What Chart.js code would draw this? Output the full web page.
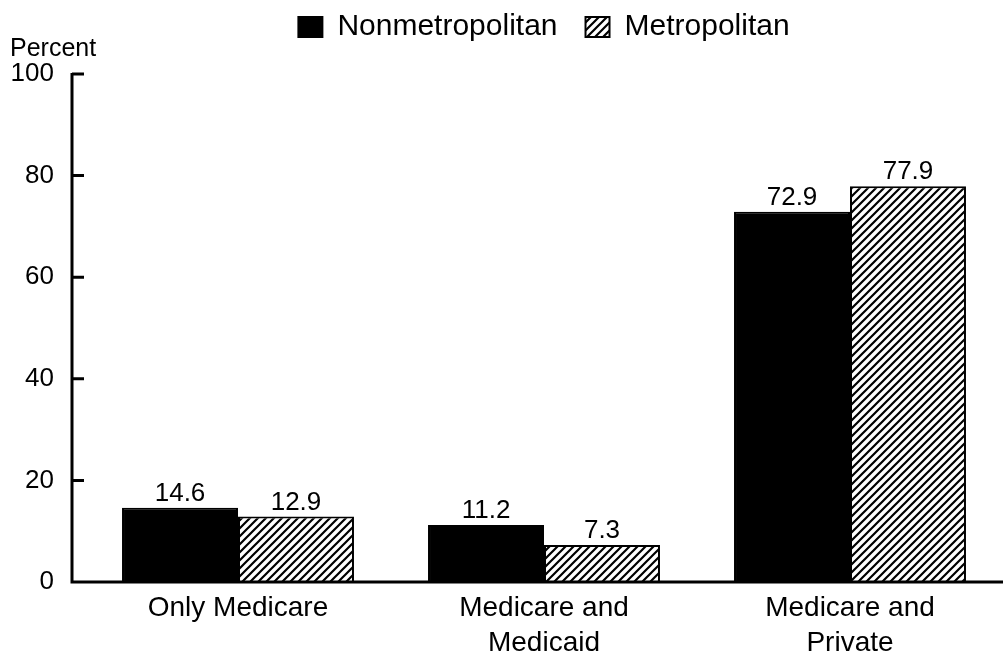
<!DOCTYPE html>
<html>
<head>
<meta charset="utf-8">
<script src="https://cdn.jsdelivr.net/npm/chart.js@4"></script>
<style>
  body { margin: 0; background: #fff; }
  #wrap { width: 1003px; height: 655px; }
</style>
</head>
<body>
<div id="wrap"><canvas id="chart" width="1003" height="655"></canvas></div>
<script>
const categories = [['Only Medicare'], ['Medicare and', 'Medicaid'], ['Medicare and', 'Private']];
const nonmetro = [14.6, 11.2, 72.9];
const metro = [12.9, 7.3, 77.9];
const yTicks = [0, 20, 40, 60, 80, 100];

const FONT = '"Liberation Sans", Arial, Helvetica, sans-serif';

// diagonal hatch for the metropolitan bars
function makeHatch() {
    const c = document.createElement('canvas');
    c.width = 8; c.height = 8;
    const g = c.getContext('2d');
    g.fillStyle = '#fff';
    g.fillRect(0, 0, 8, 8);
    g.strokeStyle = '#000';
    g.lineWidth = 2.2;
    g.beginPath();
    g.moveTo(-1, 9); g.lineTo(9, -1);
    g.moveTo(-1, 1); g.lineTo(1, -1);
    g.moveTo(7, 9); g.lineTo(9, 7);
    g.stroke();
    return g.createPattern(c, 'repeat');
}
const hatch = makeHatch();

// axis lines with inward ticks, like the original print
const axisPlugin = {
    id: 'axisLines',
    afterDraw(chart) {
        const ctx = chart.ctx;
        const y = chart.scales.y;
        const ax = chart.chartArea.left - 13;
        const top = y.getPixelForValue(100);
        const bottom = y.getPixelForValue(0);
        ctx.save();
        ctx.strokeStyle = '#000';
        ctx.lineWidth = 3;
        ctx.beginPath();
        ctx.moveTo(ax, top - 1);
        ctx.lineTo(ax, bottom);
        ctx.lineTo(chart.width, bottom);
        yTicks.forEach(v => {
            if (v === 0) return;
            const py = y.getPixelForValue(v);
            ctx.moveTo(ax, py);
            ctx.lineTo(ax + 12, py);
        });
        ctx.stroke();
        ctx.restore();
    }
};

// numbers above bars
const valuePlugin = {
    id: 'values',
    afterDatasetsDraw(chart) {
        const ctx = chart.ctx;
        ctx.save();
        ctx.fillStyle = '#000';
        ctx.font = '26px ' + FONT;
        ctx.textAlign = 'center';
        ctx.textBaseline = 'bottom';
        chart.data.datasets.forEach((ds, i) => {
            chart.getDatasetMeta(i).data.forEach((bar, j) => {
                ctx.fillText(ds.data[j].toFixed(1), bar.x, bar.y - 1);
            });
        });
        ctx.restore();
    }
};

// legend is centred over the plot and tight to the top in the original
const SQUEEZE = 18;
const legendTweak = {
    id: 'legendTweak',
    afterInit(chart) {
        const legend = chart.legend;
        const fit = legend.fit;
        legend.fit = function () {
            fit.call(this);
            this.height -= SQUEEZE;
        };
    },
    afterLayout(chart) {
        const legend = chart.legend;
        const shift = (chart.chartArea.left + chart.chartArea.right) / 2 - (legend.left + legend.right) / 2;
        legend.left += shift;
        legend.right += shift;
        legend.height += SQUEEZE;
        legend.bottom += SQUEEZE;
    }
};

new Chart(document.getElementById('chart'), {
    type: 'bar',
    data: {
        labels: categories,
        datasets: [{
            label: 'Nonmetropolitan',
            data: nonmetro,
            backgroundColor: '#000',
            borderColor: '#000',
            borderWidth: 2
        }, {
            label: 'Metropolitan',
            data: metro,
            backgroundColor: hatch,
            borderColor: '#000',
            borderWidth: 2
        }]
    },
    options: {
        responsive: false,
        animation: false,
        layout: { padding: { left: 10, right: 0, top: -16, bottom: 0 } },
        datasets: {
            bar: { categoryPercentage: 0.758, barPercentage: 1.0 }
        },
        scales: {
            x: {
                grid: { display: false, drawTicks: false },
                border: { display: false },
                ticks: {
                    color: '#000',
                    padding: 9,
                    maxRotation: 0,
                    font: { family: FONT, size: 28, lineHeight: 1.25 }
                },
                afterFit(scale) { scale.height = 73; }
            },
            y: {
                min: 0,
                max: 100,
                afterBuildTicks(scale) { scale.ticks = yTicks.map(v => ({ value: v })); },
                grid: { display: false, drawTicks: false },
                border: { display: false },
                ticks: {
                    color: '#000',
                    padding: 31,
                    font: { family: FONT, size: 26 }
                },
                afterFit(scale) { scale.width = 75; }
            }
        },
        plugins: {
            legend: {
                position: 'top',
                labels: {
                    color: '#000',
                    boxWidth: 24,
                    boxHeight: 20,
                    padding: 28,
                    font: { family: FONT, size: 30 }
                }
            },
            subtitle: {
                display: true,
                text: 'Percent',
                align: 'start',
                position: 'top',
                weight: 500,
                color: '#000',
                font: { family: FONT, size: 25, weight: 'normal' },
                padding: { top: 0, bottom: 10 }
            },
            tooltip: { enabled: false }
        }
    },
    plugins: [axisPlugin, valuePlugin, legendTweak]
});
</script>
</body>
</html>
